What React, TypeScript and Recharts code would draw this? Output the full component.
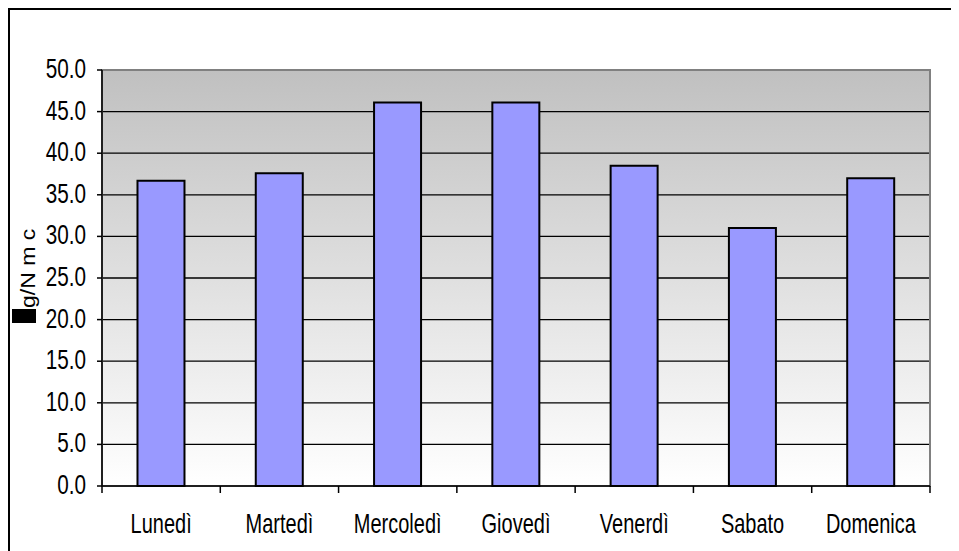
import { BarChart, Bar, XAxis, YAxis, CartesianGrid, ReferenceArea } from 'recharts';

const days = ['Lunedì', 'Martedì', 'Mercoledì', 'Giovedì', 'Venerdì', 'Sabato', 'Domenica'];
const concentrations = [36.7, 37.6, 46.1, 46.1, 38.5, 31.0, 37.0];
const yTicks = [0, 5, 10, 15, 20, 25, 30, 35, 40, 45, 50];

const data = days.map((day, i) => ({ day, value: concentrations[i] }));

const CHART_W = 949;
const CHART_H = 541;
const MARGIN = { top: 60, right: 29, left: 0, bottom: 0 };
const Y_AXIS_W = 92;
const X_AXIS_H = 65;
const PLOT_W = CHART_W - MARGIN.left - MARGIN.right - Y_AXIS_W;
const BAND = PLOT_W / days.length;

const FONT = '"Liberation Sans", Arial, sans-serif';
const SQUEEZE = 0.74;

const YTick = (props: any) => {
    const { x, y, payload } = props;
    return (
        <text
            transform={`translate(${x},${y + 8}) scale(${SQUEEZE},1)`}
            textAnchor="end"
            fontFamily={FONT}
            fontSize={28}
            fill="#000"
        >
            {Number(payload.value).toFixed(1)}
        </text>
    );
};

// category ticks sit on the band edges, labels in the middle
const XTick = (props: any) => {
    const { x, y, payload, index } = props;
    const left = x - BAND / 2;
    const right = x + BAND / 2;
    return (
        <g>
            <line x1={left} x2={left} y1={y} y2={y + 7} stroke="#000" strokeWidth={1.5} />
            {index === days.length - 1 && (
                <line x1={right} x2={right} y1={y} y2={y + 7} stroke="#000" strokeWidth={1.5} />
            )}
            <text
                transform={`translate(${x},${y + 47}) scale(${SQUEEZE},1)`}
                textAnchor="middle"
                fontFamily={FONT}
                fontSize={27}
                fill="#000"
            >
                {payload.value}
            </text>
        </g>
    );
};

// unit title drawn on top of the chart, reading bottom to top
const UnitLabel = () => (
    <svg
        width={60}
        height={CHART_H}
        style={{ position: 'absolute', left: 0, top: 0, overflow: 'visible', pointerEvents: 'none' }}
    >
        <rect x={2} y={299} width={24} height={14} fill="#000" />
        <text
            transform={`translate(25,298) scale(0.86,1) rotate(-90)`}
            textAnchor="start"
            fontFamily={FONT}
            fontSize={23}
            fill="#000"
        >
            g/N m c
        </text>
    </svg>
);

export default function App() {
    return (
        <div
            style={{
                position: 'relative',
                width: CHART_W,
                height: CHART_H,
                borderLeft: '2px solid #000',
                borderTop: '2px solid #000',
                background: '#fff',
            }}
        >
            <BarChart width={CHART_W} height={CHART_H} data={data} margin={MARGIN} barCategoryGap="30%">
                <defs>
                    <linearGradient id="plotBg" x1="0" y1="0" x2="0" y2="1">
                        <stop offset="0%" stopColor="#c0c0c0" />
                        <stop offset="100%" stopColor="#ffffff" />
                    </linearGradient>
                </defs>
                <CartesianGrid vertical={false} stroke="#000" strokeWidth={1.3} fill="url(#plotBg)" fillOpacity={1} />
                <ReferenceArea y1={0} y2={50} fill="none" stroke="#808080" strokeWidth={2} ifOverflow="visible" />
                <XAxis
                    dataKey="day"
                    height={X_AXIS_H}
                    axisLine={{ stroke: '#000', strokeWidth: 1.5 }}
                    tickLine={false}
                    tickSize={0}
                    tickMargin={0}
                    tick={<XTick />}
                    interval={0}
                />
                <YAxis
                    width={Y_AXIS_W}
                    domain={[0, 50]}
                    ticks={yTicks}
                    interval={0}
                    axisLine={{ stroke: '#000', strokeWidth: 1.5 }}
                    tickLine={{ stroke: '#000', strokeWidth: 1.5 }}
                    tickSize={5}
                    tickMargin={11}
                    tick={<YTick />}
                />
                <Bar dataKey="value" fill="#9999ff" stroke="#000" strokeWidth={2} isAnimationActive={false} />
            </BarChart>
            <UnitLabel />
        </div>
    );
}
